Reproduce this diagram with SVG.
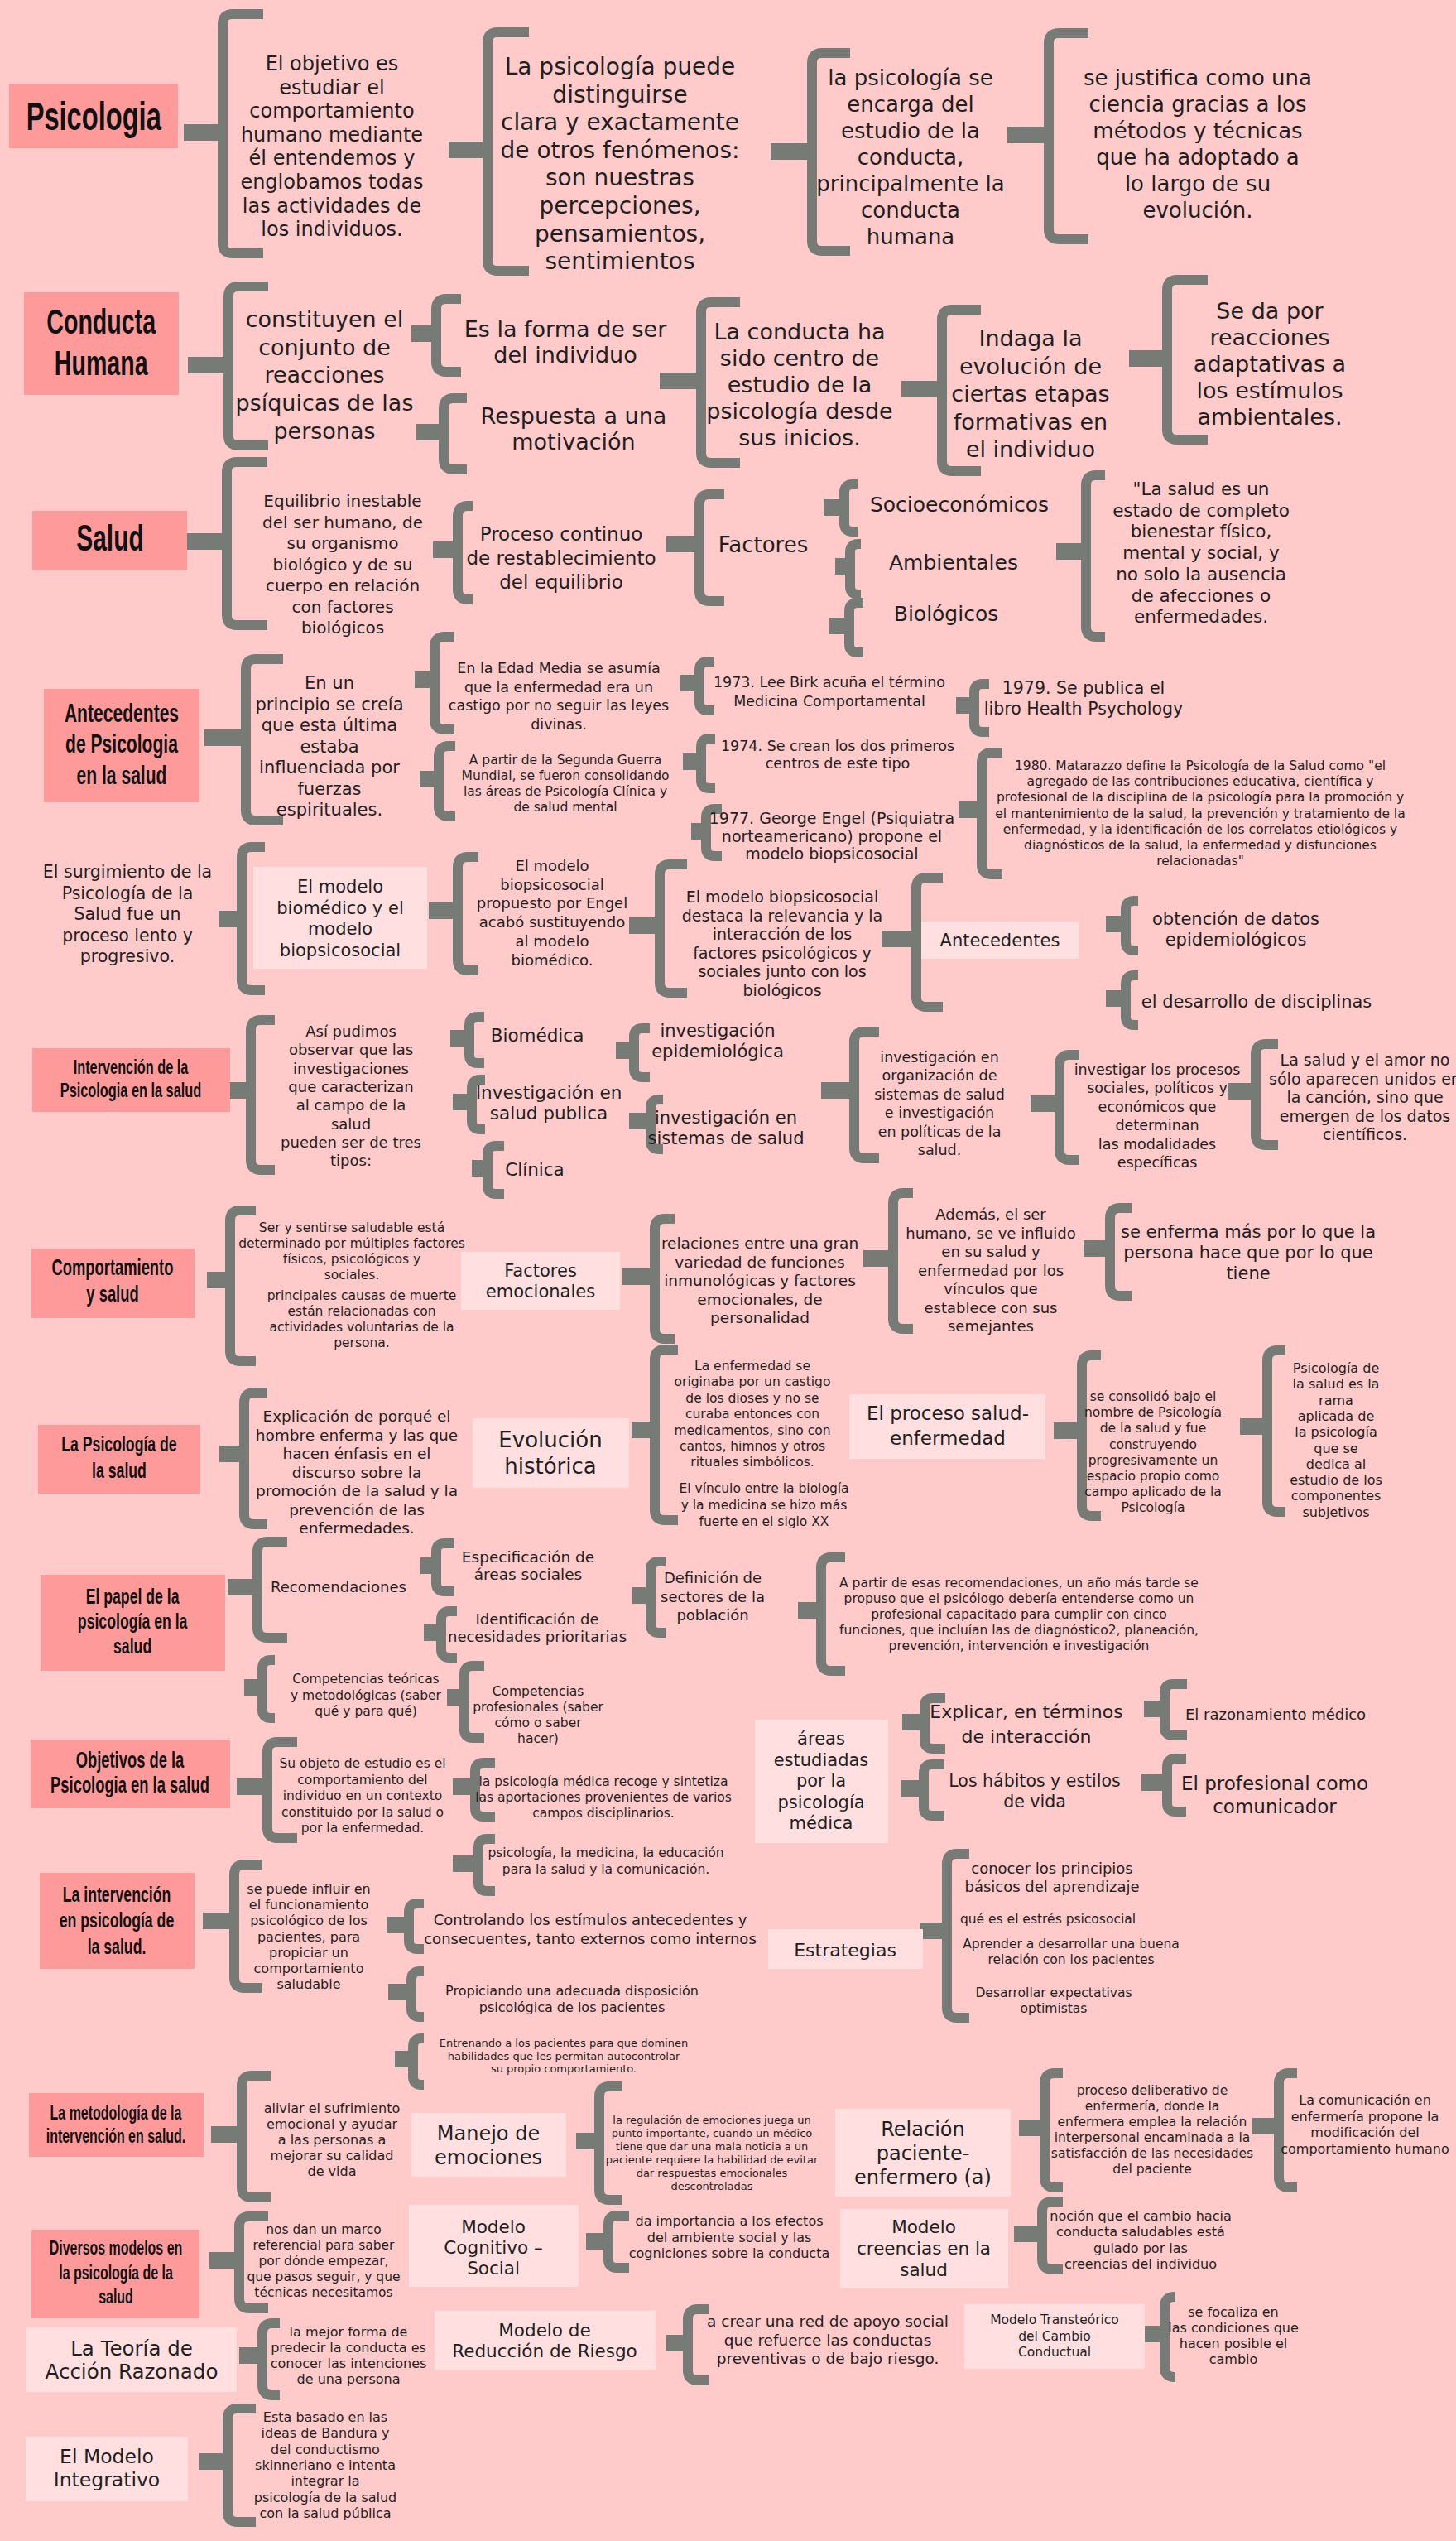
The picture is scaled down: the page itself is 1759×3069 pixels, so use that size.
<svg xmlns="http://www.w3.org/2000/svg" width="1759" height="3069" viewBox="0 0 1759 3069">
<style>
.t{font-family:'DejaVu Sans',sans-serif;fill:#1f1f1f;text-anchor:middle}
.h{font-family:'Liberation Sans',Arial,sans-serif;font-weight:bold;fill:#111;text-anchor:middle;transform-box:fill-box;transform-origin:center;transform:scaleX(.68)}
.tb{fill:#ff9a9a}
.lb{fill:#ffdfe0}
.b{fill:none;stroke:#777b76;stroke-width:12}
</style>
<rect width="1759" height="3069" fill="#ffcaca"/>
<g id="connectors">
<path class="b" d="M318 17H281Q269 17 269 29V294Q269 306 281 306H318M222 156H269M222 164H269"/>
<path class="b" d="M639 39H601Q589 39 589 51V315Q589 327 601 327H639M542 177H589M542 185H589"/>
<path class="b" d="M1027 64H993Q981 64 981 76V291Q981 303 993 303H1027M931 179H981M931 187H981"/>
<path class="b" d="M1315 40H1279Q1267 40 1267 52V277Q1267 289 1279 289H1315M1217 159H1267M1217 167H1267"/>
<path class="b" d="M324 346H288Q276 346 276 358V526Q276 538 288 538H324M227 437H276M227 445H276"/>
<path class="b" d="M557 361H539Q527 361 527 373V437Q527 449 539 449H557M497 399H527M497 407H527"/>
<path class="b" d="M564 481H548Q536 481 536 493V555Q536 567 548 567H564M503 518H536M503 526H536"/>
<path class="b" d="M894 365H859Q847 365 847 377V547Q847 559 859 559H894M797 456H847M797 464H847"/>
<path class="b" d="M1185 374H1150Q1138 374 1138 386V557Q1138 569 1150 569H1185M1089 466H1138M1089 474H1138"/>
<path class="b" d="M1459 338H1422Q1410 338 1410 350V519Q1410 531 1422 531H1459M1364 429H1410M1364 437H1410"/>
<path class="b" d="M323 558H286Q274 558 274 570V743Q274 755 286 755H323M226 650H274M226 658H274"/>
<path class="b" d="M571 611H565Q553 611 553 623V712Q553 724 565 724H571M523 660H553M523 668H553"/>
<path class="b" d="M875 597H857Q845 597 845 609V714Q845 726 857 726H875M805 653H845M805 661H845"/>
<path class="b" d="M1036 585H1030Q1020 585 1020 595V632Q1020 642 1030 642H1036M995 609H1020M995 617H1020"/>
<path class="b" d="M1040 657H1037Q1027 657 1027 667V708Q1027 718 1037 718H1040M1009 680H1027M1009 688H1027"/>
<path class="b" d="M1043 728H1036Q1026 728 1026 738V778Q1026 788 1036 788H1043M1002 752H1026M1002 760H1026"/>
<path class="b" d="M1335 574H1324Q1312 574 1312 586V757Q1312 769 1324 769H1335M1276 662H1312M1276 670H1312"/>
<path class="b" d="M342 796H309Q297 796 297 808V979Q297 991 309 991H342M247 887H297M247 895H297"/>
<path class="b" d="M549 769H537Q525 769 525 781V869Q525 881 537 881H549M501 817H525M501 825H525"/>
<path class="b" d="M550 901H542Q530 901 530 913V974Q530 986 542 986H550M507 937H530M507 945H530"/>
<path class="b" d="M863 799H855Q845 799 845 809V848Q845 858 855 858H863M822 821H845M822 829H845"/>
<path class="b" d="M1195 826H1187Q1177 826 1177 836V874Q1177 884 1187 884H1195M1155 848H1177M1155 856H1177"/>
<path class="b" d="M864 892H857Q847 892 847 902V942Q847 952 857 952H864M825 916H847M825 924H847"/>
<path class="b" d="M872 977H863Q853 977 853 987V1024Q853 1034 863 1034H872M835 1000H853M835 1008H853"/>
<path class="b" d="M1211 909H1198Q1186 909 1186 921V1044Q1186 1056 1198 1056H1211M1158 974H1186M1158 982H1186"/>
<path class="b" d="M320 1023H304Q292 1023 292 1035V1184Q292 1196 304 1196H320M264 1106H292M264 1114H292"/>
<path class="b" d="M578 1035H565Q553 1035 553 1047V1160Q553 1172 565 1172H578M518 1096H553M518 1104H553"/>
<path class="b" d="M830 1044H809Q797 1044 797 1056V1187Q797 1199 809 1199H830M760 1114H797M760 1122H797"/>
<path class="b" d="M1139 1060H1119Q1107 1060 1107 1072V1204Q1107 1216 1119 1216H1139M1065 1130H1107M1065 1138H1107"/>
<path class="b" d="M1375 1088H1370Q1360 1088 1360 1098V1138Q1360 1148 1370 1148H1375M1336 1112H1360M1336 1120H1360"/>
<path class="b" d="M1375 1178H1370Q1360 1178 1360 1188V1228Q1360 1238 1370 1238H1375M1336 1202H1360M1336 1210H1360"/>
<path class="b" d="M332 1232H315Q303 1232 303 1244V1401Q303 1413 315 1413H332M278 1313H303M278 1321H303"/>
<path class="b" d="M585 1228H577Q567 1228 567 1238V1274Q567 1284 577 1284H585M544 1250H567M544 1258H567"/>
<path class="b" d="M586 1304H580Q570 1304 570 1314V1354Q570 1364 580 1364H586M547 1327H570M547 1335H570"/>
<path class="b" d="M609 1384H599Q589 1384 589 1394V1432Q589 1442 599 1442H609M570 1407H589M570 1415H589"/>
<path class="b" d="M785 1242H776Q766 1242 766 1252V1291Q766 1301 776 1301H785M744 1265H766M744 1273H766"/>
<path class="b" d="M801 1328H796Q786 1328 786 1338V1378Q786 1388 796 1388H801M760 1350H786M760 1358H786"/>
<path class="b" d="M1062 1246H1044Q1032 1246 1032 1258V1387Q1032 1399 1044 1399H1062M992 1313H1032M992 1321H1032"/>
<path class="b" d="M1304 1274H1292Q1280 1274 1280 1286V1389Q1280 1401 1292 1401H1304M1245 1329H1280M1245 1337H1280"/>
<path class="b" d="M1544 1261H1529Q1517 1261 1517 1273V1371Q1517 1383 1529 1383H1544M1483 1314H1517M1483 1322H1517"/>
<path class="b" d="M309 1462H290Q278 1462 278 1474V1632Q278 1644 290 1644H309M250 1542H278M250 1550H278"/>
<path class="b" d="M815 1472H803Q791 1472 791 1484V1605Q791 1617 803 1617H815M752 1538H791M752 1546H791"/>
<path class="b" d="M819 1630H803Q791 1630 791 1642V1824Q791 1836 803 1836H819M763 1723H791M763 1731H791"/>
<path class="b" d="M1103 1441H1091Q1079 1441 1079 1453V1593Q1079 1605 1091 1605H1103M1043 1516H1079M1043 1524H1079"/>
<path class="b" d="M1367 1459H1353Q1341 1459 1341 1471V1553Q1341 1565 1353 1565H1367M1309 1504H1341M1309 1512H1341"/>
<path class="b" d="M323 1682H307Q295 1682 295 1694V1829Q295 1841 307 1841H323M265 1752H295M265 1760H295"/>
<path class="b" d="M1330 1637H1319Q1307 1637 1307 1649V1819Q1307 1831 1319 1831H1330M1273 1724H1307M1273 1732H1307"/>
<path class="b" d="M1553 1631H1543Q1531 1631 1531 1643V1814Q1531 1826 1543 1826H1553M1498 1719H1531M1498 1727H1531"/>
<path class="b" d="M347 1862H323Q311 1862 311 1874V1966Q311 1978 323 1978H347M275 1913H311M275 1921H311"/>
<path class="b" d="M549 1864H537Q527 1864 527 1874V1912Q527 1922 537 1922H549M508 1887H527M508 1895H527"/>
<path class="b" d="M552 1946H543Q533 1946 533 1956V1992Q533 2002 543 2002H552M512 1968H533M512 1976H533"/>
<path class="b" d="M804 1886H796Q786 1886 786 1896V1962Q786 1972 796 1972H804M764 1923H786M764 1931H786"/>
<path class="b" d="M1021 1881H1004Q992 1881 992 1893V2006Q992 2018 1004 2018H1021M964 1941H992M964 1949H992"/>
<path class="b" d="M332 2005H327Q317 2005 317 2015V2065Q317 2075 327 2075H332M295 2034H317M295 2042H317"/>
<path class="b" d="M585 2012H571Q561 2012 561 2022V2089Q561 2099 571 2099H585M540 2046H561M540 2054H561"/>
<path class="b" d="M359 2104H335Q323 2104 323 2116V2208Q323 2220 335 2220H359M286 2154H323M286 2162H323"/>
<path class="b" d="M598 2129H584Q574 2129 574 2139V2184Q574 2194 584 2194H598M547 2154H574M547 2162H574"/>
<path class="b" d="M598 2221H588Q578 2221 578 2231V2274Q578 2284 588 2284H598M547 2247H578M547 2255H578"/>
<path class="b" d="M1142 2051H1127Q1117 2051 1117 2061V2102Q1117 2112 1127 2112H1142M1090 2076H1117M1090 2084H1117"/>
<path class="b" d="M1434 2034H1417Q1407 2034 1407 2044V2086Q1407 2096 1417 2096H1434M1382 2060H1407M1382 2068H1407"/>
<path class="b" d="M1141 2131H1126Q1116 2131 1116 2141V2183Q1116 2193 1126 2193H1141M1088 2156H1116M1088 2164H1116"/>
<path class="b" d="M1433 2124H1420Q1410 2124 1410 2134V2178Q1410 2188 1420 2188H1433M1379 2149H1410M1379 2157H1410"/>
<path class="b" d="M317 2252H295Q283 2252 283 2264V2389Q283 2401 295 2401H317M245 2316H283M245 2324H283"/>
<path class="b" d="M512 2299H504Q494 2299 494 2309V2344Q494 2354 504 2354H512M467 2321H494M467 2329H494"/>
<path class="b" d="M512 2381H507Q497 2381 497 2391V2426Q497 2436 507 2436H512M469 2402H497M469 2410H497"/>
<path class="b" d="M512 2462H509Q499 2462 499 2472V2508Q499 2518 509 2518H512M477 2483H499M477 2491H499"/>
<path class="b" d="M1171 2239H1156Q1144 2239 1144 2251V2425Q1144 2437 1156 2437H1171M1111 2328H1144M1111 2336H1144"/>
<path class="b" d="M327 2507H304Q292 2507 292 2519V2642Q292 2654 304 2654H327M255 2574H292M255 2582H292"/>
<path class="b" d="M752 2520H736Q724 2520 724 2532V2645Q724 2657 736 2657H752M696 2582H724M696 2590H724"/>
<path class="b" d="M1284 2504H1274Q1262 2504 1262 2516V2630Q1262 2642 1274 2642H1284M1231 2566H1262M1231 2574H1262"/>
<path class="b" d="M1567 2504H1557Q1545 2504 1545 2516V2630Q1545 2642 1557 2642H1567M1513 2564H1545M1513 2572H1545"/>
<path class="b" d="M324 2677H301Q289 2677 289 2689V2776Q289 2788 301 2788H324M253 2726H289M253 2734H289"/>
<path class="b" d="M760 2676H745Q735 2676 735 2686V2729Q735 2739 745 2739H760M708 2703H735M708 2711H735"/>
<path class="b" d="M1284 2659H1271Q1259 2659 1259 2671V2729Q1259 2741 1271 2741H1284M1225 2694H1259M1225 2702H1259"/>
<path class="b" d="M338 2806H329Q317 2806 317 2818V2881Q317 2893 329 2893H338M289 2841H317M289 2849H317"/>
<path class="b" d="M856 2789H843Q831 2789 831 2801V2863Q831 2875 843 2875H856M805 2826H831M805 2834H831"/>
<path class="b" d="M1420 2774H1419Q1407 2774 1407 2786V2859Q1407 2871 1419 2871H1420M1383 2815H1407M1383 2823H1407"/>
<path class="b" d="M309 2909H287Q275 2909 275 2921V3034Q275 3046 287 3046H309M240 2969H275M240 2977H275"/>
</g>

<g id="psicologia"><rect class="tb" x="11" y="101" width="204" height="78"/><text class="h" x="113" y="157" font-size="48">Psicologia</text></g>
<g id="n1"><text class="t" x="401" y="85" font-size="24"><tspan x="401">El objetivo es</tspan><tspan x="401" dy="28.6">estudiar el</tspan><tspan x="401" dy="28.6">comportamiento</tspan><tspan x="401" dy="28.6">humano mediante</tspan><tspan x="401" dy="28.6">él entendemos y</tspan><tspan x="401" dy="28.6">englobamos todas</tspan><tspan x="401" dy="28.6">las actividades de</tspan><tspan x="401" dy="28.6">los individuos.</tspan></text></g>
<g id="n2"><text class="t" x="749" y="90" font-size="28"><tspan x="749">La psicología puede</tspan><tspan x="749" dy="33.6">distinguirse</tspan><tspan x="749" dy="33.6">clara y exactamente</tspan><tspan x="749" dy="33.6">de otros fenómenos:</tspan><tspan x="749" dy="33.6">son nuestras</tspan><tspan x="749" dy="33.6">percepciones,</tspan><tspan x="749" dy="33.6">pensamientos,</tspan><tspan x="749" dy="33.6">sentimientos</tspan></text></g>
<g id="n3"><text class="t" x="1100" y="103" font-size="26"><tspan x="1100">la psicología se</tspan><tspan x="1100" dy="32">encarga del</tspan><tspan x="1100" dy="32">estudio de la</tspan><tspan x="1100" dy="32">conducta,</tspan><tspan x="1100" dy="32">principalmente la</tspan><tspan x="1100" dy="32">conducta</tspan><tspan x="1100" dy="32">humana</tspan></text></g>
<g id="n4"><text class="t" x="1447" y="103" font-size="26"><tspan x="1447">se justifica  como una</tspan><tspan x="1447" dy="32">ciencia gracias a los</tspan><tspan x="1447" dy="32">métodos y técnicas</tspan><tspan x="1447" dy="32">que ha adoptado a</tspan><tspan x="1447" dy="32">lo largo de su</tspan><tspan x="1447" dy="32">evolución.</tspan></text></g>

<g id="conducta"><rect class="tb" x="29" y="353" width="187" height="124"/><text class="h" x="122" y="403" font-size="42"><tspan x="122">Conducta</tspan><tspan x="122" dy="50">Humana</tspan></text></g>
<g id="n5"><text class="t" x="392" y="395" font-size="27"><tspan x="392">constituyen el</tspan><tspan x="392" dy="33.7">conjunto de</tspan><tspan x="392" dy="33.7">reacciones</tspan><tspan x="392" dy="33.7">psíquicas de las</tspan><tspan x="392" dy="33.7">personas</tspan></text></g>
<g id="n6"><text class="t" x="683" y="407" font-size="27"><tspan x="683">Es la forma de ser</tspan><tspan x="683" dy="31">del individuo</tspan></text></g>
<g id="n7"><text class="t" x="693" y="512" font-size="27"><tspan x="693">Respuesta a una</tspan><tspan x="693" dy="31">motivación</tspan></text></g>
<g id="n8"><text class="t" x="966" y="410" font-size="27"><tspan x="966">La conducta ha</tspan><tspan x="966" dy="32">sido centro de</tspan><tspan x="966" dy="32">estudio de la</tspan><tspan x="966" dy="32">psicología desde</tspan><tspan x="966" dy="32">sus inicios.</tspan></text></g>
<g id="n9"><text class="t" x="1245" y="418" font-size="27"><tspan x="1245">Indaga la</tspan><tspan x="1245" dy="33.5">evolución de</tspan><tspan x="1245" dy="33.5">ciertas etapas</tspan><tspan x="1245" dy="33.5">formativas en</tspan><tspan x="1245" dy="33.5">el individuo</tspan></text></g>
<g id="n10"><text class="t" x="1534" y="385" font-size="27"><tspan x="1534">Se da por</tspan><tspan x="1534" dy="32">reacciones</tspan><tspan x="1534" dy="32">adaptativas a</tspan><tspan x="1534" dy="32">los estímulos</tspan><tspan x="1534" dy="32">ambientales.</tspan></text></g>

<g id="salud"><rect class="tb" x="39" y="617" width="187" height="72"/><text class="h" x="133" y="665" font-size="44">Salud</text></g>
<g id="n11"><text class="t" x="414" y="612" font-size="20"><tspan x="414">Equilibrio inestable</tspan><tspan x="414" dy="25.5">del ser humano, de</tspan><tspan x="414" dy="25.5">su organismo</tspan><tspan x="414" dy="25.5">biológico y de su</tspan><tspan x="414" dy="25.5">cuerpo en relación</tspan><tspan x="414" dy="25.5">con factores</tspan><tspan x="414" dy="25.5">biológicos</tspan></text></g>
<g id="n12"><text class="t" x="678" y="653" font-size="23"><tspan x="678">Proceso continuo</tspan><tspan x="678" dy="29">de restablecimiento</tspan><tspan x="678" dy="29">del equilibrio</tspan></text></g>
<g id="n13"><text class="t" x="922" y="667" font-size="26">Factores</text></g>
<g id="n14"><text class="t" x="1159" y="618" font-size="25">Socioeconómicos</text></g>
<g id="n15"><text class="t" x="1152" y="688" font-size="25">Ambientales</text></g>
<g id="n16"><text class="t" x="1143" y="750" font-size="25">Biológicos</text></g>
<g id="n17"><text class="t" x="1451" y="598" font-size="21.5"><tspan x="1451">"La salud es un</tspan><tspan x="1451" dy="25.7">estado de completo</tspan><tspan x="1451" dy="25.7">bienestar físico,</tspan><tspan x="1451" dy="25.7">mental y social, y</tspan><tspan x="1451" dy="25.7">no solo la ausencia</tspan><tspan x="1451" dy="25.7">de afecciones o</tspan><tspan x="1451" dy="25.7">enfermedades.</tspan></text></g>

<g id="antecedentes"><rect class="tb" x="53" y="832" width="188" height="137"/><text class="h" x="147" y="872" font-size="31"><tspan x="147">Antecedentes</tspan><tspan x="147" dy="37">de Psicologia</tspan><tspan x="147" dy="38">en la salud</tspan></text></g>
<g id="n18"><text class="t" x="398" y="832" font-size="21"><tspan x="398">En un</tspan><tspan x="398" dy="25.5">principio se creía</tspan><tspan x="398" dy="25.5">que esta última</tspan><tspan x="398" dy="25.5">estaba</tspan><tspan x="398" dy="25.5">influenciada por</tspan><tspan x="398" dy="25.5">fuerzas</tspan><tspan x="398" dy="25.5">espirituales.</tspan></text></g>
<g id="n19"><text class="t" x="675" y="813" font-size="17.5"><tspan x="675">En la Edad Media se asumía</tspan><tspan x="675" dy="22.5">que la enfermedad era un</tspan><tspan x="675" dy="22.5">castigo por no seguir las leyes</tspan><tspan x="675" dy="22.5">divinas.</tspan></text></g>
<g id="n20"><text class="t" x="683" y="923" font-size="15.5"><tspan x="683">A partir de la Segunda Guerra</tspan><tspan x="683" dy="19">Mundial, se fueron consolidando</tspan><tspan x="683" dy="19">las áreas de Psicología Clínica y</tspan><tspan x="683" dy="19">de salud mental</tspan></text></g>
<g id="n21"><text class="t" x="1002" y="830" font-size="17.5"><tspan x="1002">1973. Lee Birk acuña el término</tspan><tspan x="1002" dy="23">Medicina Comportamental</tspan></text></g>
<g id="n22"><text class="t" x="1309" y="838" font-size="20.5"><tspan x="1309">1979. Se publica el</tspan><tspan x="1309" dy="25">libro Health Psychology</tspan></text></g>
<g id="n23"><text class="t" x="1012" y="907" font-size="17.5"><tspan x="1012">1974. Se crean los dos primeros</tspan><tspan x="1012" dy="21">centros de este tipo</tspan></text></g>
<g id="n24"><text class="t" x="1005" y="995" font-size="19"><tspan x="1005">1977. George Engel (Psiquiatra</tspan><tspan x="1005" dy="21.5">norteamericano) propone el</tspan><tspan x="1005" dy="21.5">modelo biopsicosocial</tspan></text></g>
<g id="n25"><text class="t" x="1450" y="930" font-size="15.5"><tspan x="1450">1980. Matarazzo define la Psicología de la Salud como "el</tspan><tspan x="1450" dy="19.2">agregado de las contribuciones educativa, científica y</tspan><tspan x="1450" dy="19.2">profesional de la disciplina de la psicología para la promoción y</tspan><tspan x="1450" dy="19.2">el mantenimiento de la salud, la prevención y tratamiento de la</tspan><tspan x="1450" dy="19.2">enfermedad, y la identificación de los correlatos etiológicos y</tspan><tspan x="1450" dy="19.2">diagnósticos de la salud, la enfermedad y disfunciones</tspan><tspan x="1450" dy="19.2">relacionadas"</tspan></text></g>

<g id="n26"><text class="t" x="154" y="1060" font-size="20.5"><tspan x="154">El surgimiento de la</tspan><tspan x="154" dy="25.5">Psicología de la</tspan><tspan x="154" dy="25.5">Salud fue un</tspan><tspan x="154" dy="25.5">proceso lento y</tspan><tspan x="154" dy="25.5">progresivo.</tspan></text></g>
<g id="n-biomedico"><rect class="lb" x="306" y="1047" width="210" height="123"/><text class="t" x="411" y="1078" font-size="21"><tspan x="411">El modelo</tspan><tspan x="411" dy="25.5">biomédico y el</tspan><tspan x="411" dy="25.5">modelo</tspan><tspan x="411" dy="25.5">biopsicosocial</tspan></text></g>
<g id="n27"><text class="t" x="667" y="1052" font-size="18"><tspan x="667">El modelo</tspan><tspan x="667" dy="22.7">biopsicosocial</tspan><tspan x="667" dy="22.7">propuesto por Engel</tspan><tspan x="667" dy="22.7">acabó sustituyendo</tspan><tspan x="667" dy="22.7">al modelo</tspan><tspan x="667" dy="22.7">biomédico.</tspan></text></g>
<g id="n28"><text class="t" x="945" y="1090" font-size="19"><tspan x="945">El modelo biopsicosocial</tspan><tspan x="945" dy="22.6">destaca la relevancia y la</tspan><tspan x="945" dy="22.6">interacción de los</tspan><tspan x="945" dy="22.6">factores psicológicos y</tspan><tspan x="945" dy="22.6">sociales junto con los</tspan><tspan x="945" dy="22.6">biológicos</tspan></text></g>
<g id="n-antecedentes2"><rect class="lb" x="1113" y="1113" width="191" height="45"/><text class="t" x="1208" y="1143" font-size="21">Antecedentes</text></g>
<g id="n30"><text class="t" x="1493" y="1117" font-size="21"><tspan x="1493">obtención de datos</tspan><tspan x="1493" dy="25">epidemiológicos</tspan></text></g>
<g id="n31"><text class="t" x="1518" y="1217" font-size="21">el desarrollo de disciplinas</text></g>

<g id="intervencion"><rect class="tb" x="39" y="1266" width="239" height="77"/><text class="h" x="158" y="1297" font-size="24"><tspan x="158">Intervención de la</tspan><tspan x="158" dy="28">Psicologia en la salud</tspan></text></g>
<g id="n32"><text class="t" x="424" y="1252" font-size="18"><tspan x="424">Así pudimos</tspan><tspan x="424" dy="22.3">observar que las</tspan><tspan x="424" dy="22.3">investigaciones</tspan><tspan x="424" dy="22.3">que caracterizan</tspan><tspan x="424" dy="22.3">al campo de la</tspan><tspan x="424" dy="22.3">salud</tspan><tspan x="424" dy="22.3">pueden ser de tres</tspan><tspan x="424" dy="22.3">tipos:</tspan></text></g>
<g id="n33"><text class="t" x="649" y="1258" font-size="21.5">Biomédica</text></g>
<g id="n34"><text class="t" x="663" y="1327" font-size="21.5"><tspan x="663">Investigación en</tspan><tspan x="663" dy="25">salud publica</tspan></text></g>
<g id="n35"><text class="t" x="646" y="1420" font-size="21.5">Clínica</text></g>
<g id="n36"><text class="t" x="867" y="1252" font-size="21"><tspan x="867">investigación</tspan><tspan x="867" dy="25">epidemiológica</tspan></text></g>
<g id="n37"><text class="t" x="877" y="1357" font-size="21"><tspan x="877">investigación en</tspan><tspan x="877" dy="25">sistemas de salud</tspan></text></g>
<g id="n38"><text class="t" x="1135" y="1283" font-size="17.5"><tspan x="1135">investigación en</tspan><tspan x="1135" dy="22.4">organización de</tspan><tspan x="1135" dy="22.4">sistemas de salud</tspan><tspan x="1135" dy="22.4">e investigación</tspan><tspan x="1135" dy="22.4">en políticas de la</tspan><tspan x="1135" dy="22.4">salud.</tspan></text></g>
<g id="n39"><text class="t" x="1398" y="1298" font-size="17.5"><tspan x="1398">investigar los procesos</tspan><tspan x="1398" dy="22.4">sociales, políticos y</tspan><tspan x="1398" dy="22.4">económicos que</tspan><tspan x="1398" dy="22.4">determinan</tspan><tspan x="1398" dy="22.4">las modalidades</tspan><tspan x="1398" dy="22.4">específicas</tspan></text></g>
<g id="n40"><text class="t" x="1649" y="1287" font-size="19"><tspan x="1649">La salud y el amor no</tspan><tspan x="1649" dy="22.5">sólo aparecen unidos en</tspan><tspan x="1649" dy="22.5">la canción, sino que</tspan><tspan x="1649" dy="22.5">emergen de los datos</tspan><tspan x="1649" dy="22.5">científicos.</tspan></text></g>

<g id="comportamiento"><rect class="tb" x="38" y="1508" width="197" height="84"/><text class="h" x="136" y="1540" font-size="27"><tspan x="136">Comportamiento</tspan><tspan x="136" dy="32">y salud</tspan></text></g>
<g id="n41"><text class="t" x="425" y="1488" font-size="15.5"><tspan x="425">Ser y sentirse saludable está</tspan><tspan x="425" dy="19">determinado por múltiples factores</tspan><tspan x="425" dy="19">físicos, psicológicos y</tspan><tspan x="425" dy="19">sociales.</tspan></text><text class="t" x="437" y="1570" font-size="15.5"><tspan x="437">principales causas de muerte</tspan><tspan x="437" dy="19">están relacionadas con</tspan><tspan x="437" dy="19">actividades voluntarias de la</tspan><tspan x="437" dy="19">persona.</tspan></text></g>
<g id="n-factores-emo"><rect class="lb" x="557" y="1512" width="192" height="70"/><text class="t" x="653" y="1542" font-size="21"><tspan x="653">Factores</tspan><tspan x="653" dy="25">emocionales</tspan></text></g>
<g id="n42"><text class="t" x="918" y="1508" font-size="18.5"><tspan x="918">relaciones entre una gran</tspan><tspan x="918" dy="22.5">variedad de funciones</tspan><tspan x="918" dy="22.5">inmunológicas y factores</tspan><tspan x="918" dy="22.5">emocionales, de</tspan><tspan x="918" dy="22.5">personalidad</tspan></text></g>
<g id="n44"><text class="t" x="1197" y="1473" font-size="18"><tspan x="1197">Además, el ser</tspan><tspan x="1197" dy="22.5">humano, se ve influido</tspan><tspan x="1197" dy="22.5">en su salud y</tspan><tspan x="1197" dy="22.5">enfermedad por los</tspan><tspan x="1197" dy="22.5">vínculos que</tspan><tspan x="1197" dy="22.5">establece con sus</tspan><tspan x="1197" dy="22.5">semejantes</tspan></text></g>
<g id="n45"><text class="t" x="1508" y="1495" font-size="21"><tspan x="1508">se enferma más por lo que la</tspan><tspan x="1508" dy="25">persona hace que por lo que</tspan><tspan x="1508" dy="25">tiene</tspan></text></g>

<g id="psi-salud"><rect class="tb" x="46" y="1721" width="196" height="83"/><text class="h" x="144" y="1753" font-size="26"><tspan x="144">La Psicología de</tspan><tspan x="144" dy="32">la salud</tspan></text></g>
<g id="n46"><text class="t" x="431" y="1717" font-size="18.5"><tspan x="431">Explicación de porqué el</tspan><tspan x="431" dy="22.5">hombre enferma y las que</tspan><tspan x="431" dy="22.5">hacen énfasis en el</tspan><tspan x="431" dy="22.5">discurso sobre la</tspan><tspan x="431" dy="22.5">promoción de la salud y la</tspan><tspan x="431" dy="22.5">prevención de las</tspan><tspan x="431" dy="22.5">enfermedades.</tspan></text></g>
<g id="n-evolucion"><rect class="lb" x="571" y="1713" width="189" height="84"/><text class="t" x="665" y="1748" font-size="26"><tspan x="665">Evolución</tspan><tspan x="665" dy="32">histórica</tspan></text></g>
<g id="n43"><text class="t" x="909" y="1655" font-size="15.5"><tspan x="909">La enfermedad se</tspan><tspan x="909" dy="19.4">originaba por un castigo</tspan><tspan x="909" dy="19.4">de los dioses y no se</tspan><tspan x="909" dy="19.4">curaba entonces con</tspan><tspan x="909" dy="19.4">medicamentos, sino con</tspan><tspan x="909" dy="19.4">cantos, himnos y otros</tspan><tspan x="909" dy="19.4">rituales simbólicos.</tspan></text><text class="t" x="923" y="1803" font-size="15.5"><tspan x="923">El vínculo entre la biología</tspan><tspan x="923" dy="20">y la medicina se hizo más</tspan><tspan x="923" dy="20">fuerte en el siglo XX</tspan></text></g>
<g id="n-proceso"><rect class="lb" x="1026" y="1684" width="237" height="78"/><text class="t" x="1145" y="1715" font-size="23"><tspan x="1145">El proceso salud-</tspan><tspan x="1145" dy="30">enfermedad</tspan></text></g>
<g id="n47"><text class="t" x="1393" y="1692" font-size="15.5"><tspan x="1393">se consolidó bajo el</tspan><tspan x="1393" dy="19.2">nombre de Psicología</tspan><tspan x="1393" dy="19.2">de la salud y fue</tspan><tspan x="1393" dy="19.2">construyendo</tspan><tspan x="1393" dy="19.2">progresivamente un</tspan><tspan x="1393" dy="19.2">espacio propio como</tspan><tspan x="1393" dy="19.2">campo aplicado de la</tspan><tspan x="1393" dy="19.2">Psicología</tspan></text></g>
<g id="n48"><text class="t" x="1614" y="1658" font-size="16"><tspan x="1614">Psicología de</tspan><tspan x="1614" dy="19.3">la salud es la</tspan><tspan x="1614" dy="19.3">rama</tspan><tspan x="1614" dy="19.3">aplicada de</tspan><tspan x="1614" dy="19.3">la psicología</tspan><tspan x="1614" dy="19.3">que se</tspan><tspan x="1614" dy="19.3">dedica al</tspan><tspan x="1614" dy="19.3">estudio de los</tspan><tspan x="1614" dy="19.3">componentes</tspan><tspan x="1614" dy="19.3">subjetivos</tspan></text></g>

<g id="papel"><rect class="tb" x="49" y="1902" width="223" height="116"/><text class="h" x="160" y="1937" font-size="26"><tspan x="160">El papel de la</tspan><tspan x="160" dy="30">psicología en la</tspan><tspan x="160" dy="30">salud</tspan></text></g>
<g id="n49"><text class="t" x="409" y="1923" font-size="18">Recomendaciones</text></g>
<g id="n50"><text class="t" x="638" y="1887" font-size="18.5"><tspan x="638">Especificación de</tspan><tspan x="638" dy="21">áreas sociales</tspan></text></g>
<g id="n51"><text class="t" x="649" y="1962" font-size="18"><tspan x="649">Identificación de</tspan><tspan x="649" dy="21">necesidades prioritarias</tspan></text></g>
<g id="n52"><text class="t" x="861" y="1912" font-size="18"><tspan x="861">Definición de</tspan><tspan x="861" dy="22.5">sectores de la</tspan><tspan x="861" dy="22.5">población</tspan></text></g>
<g id="n53"><text class="t" x="1231" y="1917" font-size="15.5"><tspan x="1231">A partir de esas recomendaciones, un año más tarde se</tspan><tspan x="1231" dy="19">propuso que el psicólogo debería entenderse como un</tspan><tspan x="1231" dy="19">profesional capacitado para cumplir con cinco</tspan><tspan x="1231" dy="19">funciones, que incluían las de diagnóstico2, planeación,</tspan><tspan x="1231" dy="19">prevención, intervención e investigación</tspan></text></g>
<g id="n54"><text class="t" x="442" y="2033" font-size="15.5"><tspan x="442">Competencias teóricas</tspan><tspan x="442" dy="19.5">y metodológicas (saber</tspan><tspan x="442" dy="19.5">qué y para qué)</tspan></text></g>
<g id="n55"><text class="t" x="650" y="2048" font-size="15.5"><tspan x="650">Competencias</tspan><tspan x="650" dy="19">profesionales (saber</tspan><tspan x="650" dy="19">cómo o saber</tspan><tspan x="650" dy="19">hacer)</tspan></text></g>

<g id="objetivos"><rect class="tb" x="37" y="2101" width="241" height="83"/><text class="h" x="157" y="2135" font-size="27"><tspan x="157">Objetivos de la</tspan><tspan x="157" dy="30">Psicologia en la salud</tspan></text></g>
<g id="n56"><text class="t" x="438" y="2135" font-size="15.5"><tspan x="438">Su objeto de estudio es el</tspan><tspan x="438" dy="19.5">comportamiento del</tspan><tspan x="438" dy="19.5">individuo en un contexto</tspan><tspan x="438" dy="19.5">constituido por la salud o</tspan><tspan x="438" dy="19.5">por la enfermedad.</tspan></text></g>
<g id="n57"><text class="t" x="729" y="2157" font-size="15.5"><tspan x="729">la psicología médica recoge y sintetiza</tspan><tspan x="729" dy="19.2">las aportaciones provenientes de varios</tspan><tspan x="729" dy="19.2">campos disciplinarios.</tspan></text></g>
<g id="n58"><text class="t" x="732" y="2243" font-size="15.5"><tspan x="732">psicología, la medicina, la educación</tspan><tspan x="732" dy="20">para la salud y la comunicación.</tspan></text></g>
<g id="n-areas"><rect class="lb" x="912" y="2077" width="161" height="149"/><text class="t" x="992" y="2107" font-size="21"><tspan x="992">áreas</tspan><tspan x="992" dy="25.5">estudiadas</tspan><tspan x="992" dy="25.5">por la</tspan><tspan x="992" dy="25.5">psicología</tspan><tspan x="992" dy="25.5">médica</tspan></text></g>
<g id="n59"><text class="t" x="1240" y="2075" font-size="22"><tspan x="1240">Explicar, en términos</tspan><tspan x="1240" dy="30">de interacción</tspan></text></g>
<g id="n60"><text class="t" x="1541" y="2077" font-size="18">El razonamiento médico</text></g>
<g id="n61"><text class="t" x="1250" y="2158" font-size="20.5"><tspan x="1250">Los hábitos y estilos</tspan><tspan x="1250" dy="25">de vida</tspan></text></g>
<g id="n62"><text class="t" x="1540" y="2162" font-size="23"><tspan x="1540">El profesional como</tspan><tspan x="1540" dy="28">comunicador</tspan></text></g>

<g id="intervencion2"><rect class="tb" x="48" y="2262" width="187" height="116"/><text class="h" x="141" y="2297" font-size="26"><tspan x="141">La intervención</tspan><tspan x="141" dy="31">en psicología de</tspan><tspan x="141" dy="32">la salud.</tspan></text></g>
<g id="n63"><text class="t" x="373" y="2287" font-size="16"><tspan x="373">se puede influir en</tspan><tspan x="373" dy="19.2">el funcionamiento</tspan><tspan x="373" dy="19.2">psicológico de los</tspan><tspan x="373" dy="19.2">pacientes, para</tspan><tspan x="373" dy="19.2">propiciar un</tspan><tspan x="373" dy="19.2">comportamiento</tspan><tspan x="373" dy="19.2">saludable</tspan></text></g>
<g id="n64"><text class="t" x="713" y="2325" font-size="18"><tspan x="713">Controlando los estímulos antecedentes y</tspan><tspan x="713" dy="23">consecuentes, tanto externos como internos</tspan></text></g>
<g id="n65"><text class="t" x="691" y="2410" font-size="16"><tspan x="691">Propiciando una adecuada disposición</tspan><tspan x="691" dy="19.5">psicológica de los pacientes</tspan></text></g>
<g id="n66"><text class="t" x="681" y="2472" font-size="13"><tspan x="681">Entrenando a los pacientes para que dominen</tspan><tspan x="681" dy="15.7">habilidades que les permitan autocontrolar</tspan><tspan x="681" dy="15.7">su propio comportamiento.</tspan></text></g>
<g id="n-estrategias"><rect class="lb" x="928" y="2330" width="187" height="48"/><text class="t" x="1021" y="2363" font-size="22">Estrategias</text></g>
<g id="n67"><text class="t" x="1271" y="2263" font-size="18"><tspan x="1271">conocer los principios</tspan><tspan x="1271" dy="22">básicos del aprendizaje</tspan></text><text class="t" x="1266" y="2323" font-size="15.5">qué es el estrés psicosocial</text><text class="t" x="1294" y="2353" font-size="15.5"><tspan x="1294">Aprender a desarrollar una buena</tspan><tspan x="1294" dy="19">relación con los pacientes</tspan></text><text class="t" x="1273" y="2412" font-size="15.5"><tspan x="1273">Desarrollar expectativas</tspan><tspan x="1273" dy="19">optimistas</tspan></text></g>

<g id="metodologia"><rect class="tb" x="35" y="2528" width="211" height="77"/><text class="h" x="140" y="2560" font-size="23.5"><tspan x="140">La metodología de la</tspan><tspan x="140" dy="28">intervención en salud.</tspan></text></g>
<g id="n68"><text class="t" x="401" y="2552" font-size="16"><tspan x="401">aliviar el sufrimiento</tspan><tspan x="401" dy="19">emocional y ayudar</tspan><tspan x="401" dy="19">a las personas a</tspan><tspan x="401" dy="19">mejorar su calidad</tspan><tspan x="401" dy="19">de vida</tspan></text></g>
<g id="n-manejo"><rect class="lb" x="497" y="2552" width="187" height="77"/><text class="t" x="590" y="2585" font-size="24"><tspan x="590">Manejo de</tspan><tspan x="590" dy="29">emociones</tspan></text></g>
<g id="n69"><text class="t" x="860" y="2565" font-size="13"><tspan x="860">la regulación de emociones juega un</tspan><tspan x="860" dy="16">punto importante, cuando un médico</tspan><tspan x="860" dy="16">tiene que dar una mala noticia a un</tspan><tspan x="860" dy="16">paciente requiere la habilidad de evitar</tspan><tspan x="860" dy="16">dar respuestas emocionales</tspan><tspan x="860" dy="16">descontroladas</tspan></text></g>
<g id="n-relacion"><rect class="lb" x="1009" y="2547" width="212" height="106"/><text class="t" x="1115" y="2580" font-size="24"><tspan x="1115">Relación</tspan><tspan x="1115" dy="29">paciente-</tspan><tspan x="1115" dy="29">enfermero (a)</tspan></text></g>
<g id="n70"><text class="t" x="1392" y="2530" font-size="15.5"><tspan x="1392">proceso deliberativo de</tspan><tspan x="1392" dy="19">enfermería, donde la</tspan><tspan x="1392" dy="19">enfermera emplea la relación</tspan><tspan x="1392" dy="19">interpersonal encaminada a la</tspan><tspan x="1392" dy="19">satisfacción de las necesidades</tspan><tspan x="1392" dy="19">del paciente</tspan></text></g>
<g id="n71"><text class="t" x="1649" y="2542" font-size="16"><tspan x="1649">La comunicación en</tspan><tspan x="1649" dy="19.7">enfermería propone la</tspan><tspan x="1649" dy="19.7">modificación del</tspan><tspan x="1649" dy="19.7">comportamiento humano</tspan></text></g>

<g id="diversos"><rect class="tb" x="38" y="2693" width="203" height="107"/><text class="h" x="140" y="2723" font-size="23.5"><tspan x="140">Diversos modelos en</tspan><tspan x="140" dy="30">la psicología de la</tspan><tspan x="140" dy="29">salud</tspan></text></g>
<g id="n72"><text class="t" x="391" y="2698" font-size="15.5"><tspan x="391">nos dan un marco</tspan><tspan x="391" dy="19">referencial para saber</tspan><tspan x="391" dy="19">por dónde empezar,</tspan><tspan x="391" dy="19">que pasos seguir, y que</tspan><tspan x="391" dy="19">técnicas necesitamos</tspan></text></g>
<g id="n-cognitivo"><rect class="lb" x="494" y="2663" width="205" height="99"/><text class="t" x="596" y="2697" font-size="21.5"><tspan x="596">Modelo</tspan><tspan x="596" dy="25">Cognitivo –</tspan><tspan x="596" dy="25">Social</tspan></text></g>
<g id="n73"><text class="t" x="881" y="2688" font-size="16"><tspan x="881">da importancia a los efectos</tspan><tspan x="881" dy="19.5">del ambiente social y las</tspan><tspan x="881" dy="19.5">cogniciones sobre la conducta</tspan></text></g>
<g id="n-creencias"><rect class="lb" x="1015" y="2668" width="203" height="96"/><text class="t" x="1116" y="2697" font-size="21.5"><tspan x="1116">Modelo</tspan><tspan x="1116" dy="26">creencias en la</tspan><tspan x="1116" dy="26">salud</tspan></text></g>
<g id="n74"><text class="t" x="1378" y="2682" font-size="16"><tspan x="1378">noción que el cambio hacia</tspan><tspan x="1378" dy="19.3">conducta saludables está</tspan><tspan x="1378" dy="19.3">guiado por las</tspan><tspan x="1378" dy="19.3">creencias del individuo</tspan></text></g>

<g id="n-teoria"><rect class="lb" x="32" y="2811" width="254" height="78"/><text class="t" x="159" y="2845" font-size="24.5"><tspan x="159">La Teoría de</tspan><tspan x="159" dy="28">Acción Razonado</tspan></text></g>
<g id="n75"><text class="t" x="421" y="2822" font-size="16"><tspan x="421">la mejor forma de</tspan><tspan x="421" dy="19">predecir la conducta es</tspan><tspan x="421" dy="19">conocer las intenciones</tspan><tspan x="421" dy="19">de una persona</tspan></text></g>
<g id="n-riesgo"><rect class="lb" x="525" y="2791" width="267" height="71"/><text class="t" x="658" y="2822" font-size="21.5"><tspan x="658">Modelo de</tspan><tspan x="658" dy="25">Reducción de Riesgo</tspan></text></g>
<g id="n76"><text class="t" x="1000" y="2810" font-size="18.5"><tspan x="1000">a crear una red de apoyo social</tspan><tspan x="1000" dy="22.5">que refuerce las conductas</tspan><tspan x="1000" dy="22.5">preventivas o de bajo riesgo.</tspan></text></g>
<g id="n-transteorico"><rect class="lb" x="1165" y="2783" width="218" height="78"/><text class="t" x="1274" y="2807" font-size="15.5"><tspan x="1274">Modelo Transteórico</tspan><tspan x="1274" dy="19.5">del Cambio</tspan><tspan x="1274" dy="19.5">Conductual</tspan></text></g>
<g id="n77"><text class="t" x="1490" y="2798" font-size="16"><tspan x="1490">se focaliza en</tspan><tspan x="1490" dy="19">las condiciones que</tspan><tspan x="1490" dy="19">hacen posible el</tspan><tspan x="1490" dy="19">cambio</tspan></text></g>

<g id="n-integrativo"><rect class="lb" x="31" y="2943" width="196" height="78"/><text class="t" x="129" y="2975" font-size="23.5"><tspan x="129">El Modelo</tspan><tspan x="129" dy="28">Integrativo</tspan></text></g>
<g id="n78"><text class="t" x="393" y="2925" font-size="16"><tspan x="393">Esta basado en las</tspan><tspan x="393" dy="19.3">ideas de Bandura y</tspan><tspan x="393" dy="19.3">del conductismo</tspan><tspan x="393" dy="19.3">skinneriano e intenta</tspan><tspan x="393" dy="19.3">integrar la</tspan><tspan x="393" dy="19.3">psicología de la salud</tspan><tspan x="393" dy="19.3">con la salud pública</tspan></text></g>
</svg>
